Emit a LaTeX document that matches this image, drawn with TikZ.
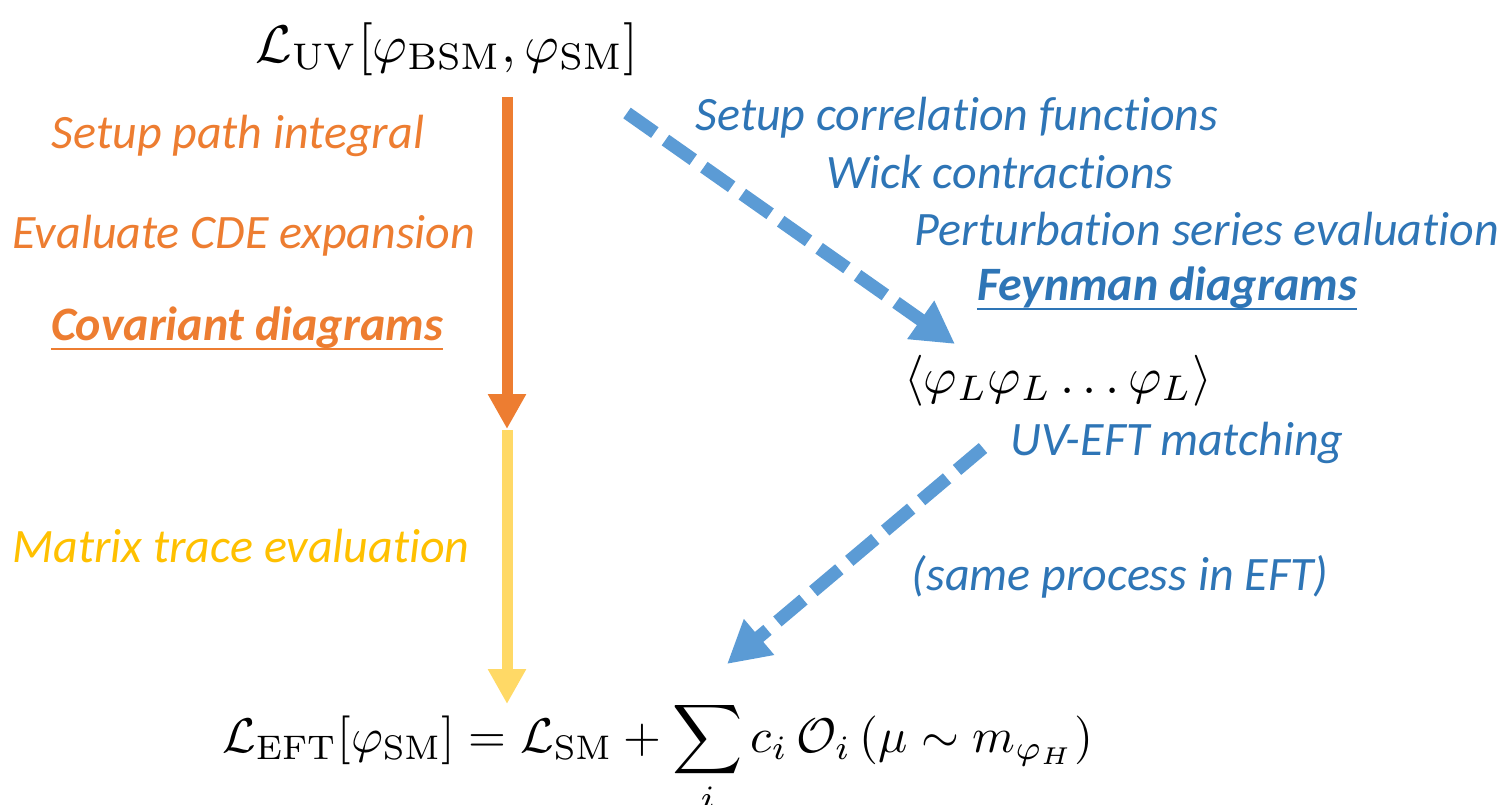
\documentclass[tikz,border=0pt]{standalone}
\usepackage[no-math]{fontspec}
\setmainfont{Carlito}[Ligatures=NoCommon]
\usetikzlibrary{arrows.meta}
\definecolor{orng}{HTML}{ED7D31}
\definecolor{ylw}{HTML}{FFD966}
\definecolor{gold}{HTML}{FFC000}
\definecolor{bluearrow}{HTML}{5B9BD5}
\definecolor{bluetext}{HTML}{2E75B6}
\tikzset{
  lbl/.style={inner sep=0pt, anchor=base, font=\itshape\fontsize{48}{57}\selectfont},
  orlbl/.style={lbl, text=orng},
  bllbl/.style={lbl, text=bluetext},
  gdlbl/.style={lbl, text=gold},
  boldlbl/.style={font=\bfseries\itshape\fontsize{48}{57}\selectfont},
  mathnode/.style={inner sep=0pt, anchor=base, transform shape},
  solidarrow/.style={line width=11pt, -{Triangle[length=35pt,width=36pt]}},
  dasharrow/.style={line width=13pt, color=bluearrow, dash pattern=on 34pt off 13pt, -{Triangle[length=42pt,width=44pt]}},
  uline/.style={line width=2.6pt}
}
\begin{document}
\begin{tikzpicture}[x=1pt,y=-1pt]
\useasboundingbox (0,0) rectangle (1503,804);
% math nodes
\node[mathnode, scale=5.3] (uv) at (447,62) {$\mathcal{L}_{\mathrm{UV}}[\varphi_{\mathrm{BSM}},\varphi_{\mathrm{SM}}]$};
\node[mathnode, scale=5.1] (corr) at (1058,393) {$\langle\varphi_L\varphi_L\ldots\varphi_L\rangle$};
\node[mathnode, scale=4.87] (eft) at (658,752) {$\displaystyle\mathcal{L}_{\mathrm{EFT}}[\varphi_{\mathrm{SM}}]=\mathcal{L}_{\mathrm{SM}}+\sum_i c_i\,\mathcal{O}_i\,(\mu\sim m_{\varphi_H})$};
% left labels
\node[orlbl] (sp) at (238,148) {Setup path integral};
\node[orlbl] (cde) at (244,248) {Evaluate CDE expansion};
\node[orlbl, boldlbl] (cov) at (247,340) {Covariant diagrams};
\draw[uline, orng] ([yshift=-9pt]cov.base west) -- ([yshift=-9pt]cov.base east);
\node[gdlbl] (mtx) at (241,562) {Matrix trace evaluation};
% right labels
\node[bllbl] (scf) at (957,130) {Setup correlation functions};
\node[bllbl] (wick) at (1000,188) {Wick contractions};
\node[bllbl] (pert) at (1207,245) {Perturbation series evaluation};
\node[bllbl, boldlbl] (feyn) at (1167,300) {Feynman diagrams};
\draw[uline, bluetext] ([yshift=-9pt]feyn.base west) -- ([yshift=-9pt]feyn.base east);
\node[bllbl] (match) at (1177,455) {UV-EFT matching};
\node[bllbl] (same) at (1120,590) {(same process in EFT)};
% connector end points
\coordinate (o1) at (507,97);
\coordinate (mid) at (507,429);
\coordinate (y1) at (507,430);
\coordinate (y2) at (507,704);
\coordinate (b1) at (627,113);
\coordinate (b2) at (955,344);
\coordinate (c1) at (983,448);
\coordinate (c2) at (727,664);
\draw[solidarrow, orng] (o1) -- (mid);
\draw[solidarrow, ylw] (y1) -- (y2);
\draw[dasharrow] (b1) -- (b2);
\draw[dasharrow] (c1) -- (c2);
\end{tikzpicture}
\end{document}
